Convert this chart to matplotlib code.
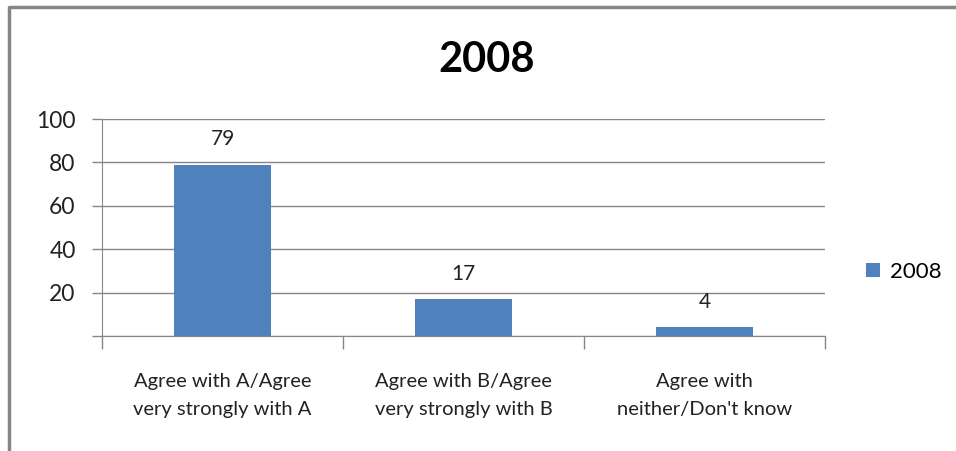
import matplotlib.pyplot as plt
from matplotlib.lines import Line2D
from matplotlib.patches import Patch

plt.rcParams['font.family'] = ['Lato', 'DejaVu Sans']

categories = ['Agree with A/Agree\nvery strongly with A',
              'Agree with B/Agree\nvery strongly with B',
              'Agree with\nneither/Don\'t know']
values = [79, 17, 4]
series_name = '2008'
yticks = [20, 40, 60, 80, 100]

bar_color = '#4F81BD'
gray = '#868686'
txt = '#222222'

fig = plt.figure(figsize=(9.56, 4.51), dpi=100)
ax = fig.add_axes([0.1067, 0.255, 0.7563, 0.4811])

x = range(len(categories))
bars = ax.bar(x, values, width=0.4, color=bar_color, zorder=3)
for b, v in zip(bars, values):
    ax.text(b.get_x() + b.get_width() / 2, v + 7, str(v), ha='center', va='bottom',
            fontsize=15, color=txt)

ax.set_xlim(-0.5, len(categories) - 0.5)
ax.set_ylim(0, 100)
ax.set_yticks([0] + yticks)
ax.set_yticklabels([''] + [str(t) for t in yticks])
ax.yaxis.grid(True, color=gray, linewidth=1)
ax.set_axisbelow(True)

# category separators as x ticks, category names as annotations below
ax.set_xticks([-0.5, 0.5, 1.5, 2.5])
ax.set_xticklabels([])
for i, cat in zip(x, categories):
    ax.annotate(cat, xy=(i, 0), xycoords=('data', 'axes fraction'),
                xytext=(0, -43), textcoords='offset points',
                ha='center', va='center', fontsize=14.5, color=txt,
                linespacing=1.75, annotation_clip=False)
ax.tick_params(axis='x', length=9, color=gray, width=1)
ax.tick_params(axis='y', length=7, color=gray, width=1, labelsize=16.5,
               labelcolor=txt, pad=12)

for s in ['top', 'right']:
    ax.spines[s].set_visible(False)
for s in ['left', 'bottom']:
    ax.spines[s].set_color(gray)

fig.text(0.509, 0.868, series_name, ha='center', va='center',
         fontsize=30, fontweight='bold', color='black')

handle = Patch(facecolor=bar_color, edgecolor='none')
fig.legend([handle], [series_name], loc='center left', bbox_to_anchor=(0.8945, 0.397),
           frameon=False, fontsize=16, handlelength=0.6, handleheight=0.6,
           handletextpad=0.45, borderpad=0)

# chart border
fig.add_artist(Line2D([0.0094, 0.0094, 1.0], [0.0, 0.9845, 0.9845],
                      transform=fig.transFigure, color=gray, linewidth=2.5))

fig.savefig('out.png', dpi=100)
